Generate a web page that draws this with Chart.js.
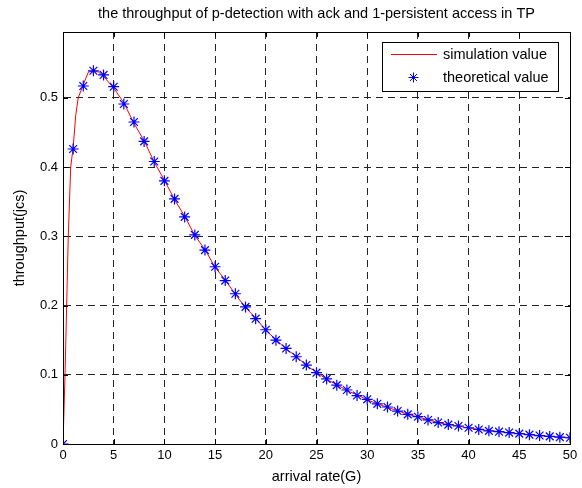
<!DOCTYPE html>
<html>
<head>
<meta charset="utf-8">
<script src="https://cdn.jsdelivr.net/npm/chart.js@4/dist/chart.umd.min.js"></script>
<style>
  html, body { margin: 0; padding: 0; background: #fff; }
  #wrap { width: 582px; height: 488px; }
</style>
</head>
<body>
<div id="wrap"><canvas id="tp"></canvas></div>
<script>
// theoretical value, one point per arrival rate G = 0..50
const theoG = [0,1,2,3,4,5,6,7,8,9,10,11,12,13,14,15,16,17,18,19,20,21,22,23,24,25,
    26,27,28,29,30,31,32,33,34,35,36,37,38,39,40,41,42,43,44,45,46,47,48,49,50];
const theoTp = [0, 0.426, 0.517, 0.539, 0.533, 0.516, 0.491, 0.465, 0.437, 0.408, 0.380,
    0.354, 0.328, 0.302, 0.280, 0.256, 0.236, 0.217, 0.198, 0.181, 0.165,
    0.150, 0.138, 0.126, 0.114, 0.103, 0.094, 0.085, 0.078, 0.070, 0.0645,
    0.058, 0.0534, 0.0476, 0.0428, 0.0394, 0.0347, 0.031, 0.028, 0.026, 0.0235,
    0.021, 0.019, 0.0178, 0.0165, 0.015, 0.0135, 0.0122, 0.011, 0.0099, 0.009];

// simulation value (red curve)
const simG = [0, 0.2, 0.36, 0.52, 0.76, 1, 1.25, 1.5, 2, 2.5, 3, 3.5, 4, 5, 6, 7, 8, 9, 10,
    11, 12, 13, 14, 15, 16, 17, 18, 19, 20, 21, 22, 23, 24, 25, 26, 27, 28, 29, 30,
    31, 32, 33, 34, 35, 36, 37, 38, 39, 40, 41, 42, 43, 44, 45, 46, 47, 48, 49, 50];
const simTp = [0, 0.1, 0.2, 0.3, 0.4, 0.428, 0.474, 0.500, 0.519, 0.537, 0.539, 0.537, 0.531,
    0.514, 0.493, 0.463, 0.438, 0.407, 0.381, 0.353, 0.329, 0.301, 0.281, 0.255, 0.237,
    0.216, 0.197, 0.182, 0.164, 0.151, 0.137, 0.127, 0.113, 0.104, 0.093, 0.086, 0.077,
    0.071, 0.064, 0.058, 0.053, 0.048, 0.043, 0.039, 0.035, 0.031, 0.028, 0.026, 0.023,
    0.021, 0.019, 0.018, 0.016, 0.015, 0.0135, 0.012, 0.011, 0.0098, 0.0088];

const xTicks = [0, 5, 10, 15, 20, 25, 30, 35, 40, 45, 50];
const yTicks = [0, 0.1, 0.2, 0.3, 0.4, 0.5];

const FONT = '"Liberation Sans", Arial, sans-serif';

const simPts = simG.map((g, i) => ({x: g, y: simTp[i]}));
const theoPts = theoG.map((g, i) => ({x: g, y: theoTp[i]}));

// frame, inward ticks, title and boxed legend like the matlab figure
const matlabBits = {
    id: 'matlabBits',
    afterDatasetsDraw(chart) {
        const ctx = chart.ctx;
        const a = chart.chartArea;
        const xs = chart.scales.x, ys = chart.scales.y;
        ctx.save();
        ctx.strokeStyle = '#000';
        ctx.lineWidth = 1;
        ctx.setLineDash([]);
        ctx.beginPath();
        xTicks.forEach(v => {
            const px = Math.round(xs.getPixelForValue(v)) + 0.5;
            ctx.moveTo(px, a.bottom); ctx.lineTo(px, a.bottom - 5);
            ctx.moveTo(px, a.top); ctx.lineTo(px, a.top + 5);
        });
        yTicks.forEach(v => {
            const py = Math.round(ys.getPixelForValue(v)) + 0.5;
            ctx.moveTo(a.left, py); ctx.lineTo(a.left + 5, py);
            ctx.moveTo(a.right, py); ctx.lineTo(a.right - 5, py);
        });
        ctx.stroke();
        ctx.strokeRect(Math.round(a.left) + 0.5, Math.round(a.top) + 0.5,
            Math.round(a.right - a.left), Math.round(a.bottom - a.top));

        // title
        ctx.fillStyle = '#000';
        ctx.font = '14.5px ' + FONT;
        ctx.textAlign = 'center';
        ctx.textBaseline = 'middle';
        ctx.fillText('the throughput of p-detection with ack and 1-persistent access in TP', (a.left + a.right) / 2, 14);

        // legend
        const lx = 382, ly = 42, lw = 176, lh = 49;
        ctx.fillStyle = '#fff';
        ctx.fillRect(lx, ly, lw, lh);
        ctx.strokeRect(lx + 0.5, ly + 0.5, lw, lh);
        ctx.strokeStyle = '#ff0000';
        ctx.beginPath();
        ctx.moveTo(391, 54.5); ctx.lineTo(437, 54.5);
        ctx.stroke();
        ctx.strokeStyle = '#0000ff';
        const r = 5, sx = 413.5, sy = 77.5;
        ctx.beginPath();
        ctx.moveTo(sx - r, sy); ctx.lineTo(sx + r, sy);
        ctx.moveTo(sx, sy - r); ctx.lineTo(sx, sy + r);
        const d = r * 0.707;
        ctx.moveTo(sx - d, sy - d); ctx.lineTo(sx + d, sy + d);
        ctx.moveTo(sx - d, sy + d); ctx.lineTo(sx + d, sy - d);
        ctx.stroke();
        ctx.fillStyle = '#000';
        ctx.font = '14.5px ' + FONT;
        ctx.textAlign = 'left';
        ctx.fillText('simulation value', 443, 55);
        ctx.fillText('theoretical value', 443, 78);
        ctx.restore();
    }
};

new Chart(document.getElementById('tp'), {
    type: 'scatter',
    data: {
        datasets: [{
            label: 'simulation value',
            data: simPts,
            showLine: true,
            borderColor: '#ff0000',
            borderWidth: 1,
            pointRadius: 0,
            tension: 0,
            order: 2
        }, {
            label: 'theoretical value',
            data: theoPts,
            showLine: false,
            pointStyle: 'star',
            pointRadius: 5.5,
            borderColor: '#0000ff',
            backgroundColor: '#0000ff',
            borderWidth: 1.2,
            order: 1
        }]
    },
    options: {
        responsive: true,
        maintainAspectRatio: false,
        animation: false,
        layout: { padding: { top: 32, right: 12, left: 0, bottom: 0 } },
        plugins: {
            legend: { display: false },
            tooltip: { enabled: false }
        },
        scales: {
            x: {
                type: 'linear',
                min: 0,
                max: 50,
                afterFit(s) { s.height = 44; },
                afterBuildTicks(s) { s.ticks = xTicks.map(v => ({value: v})); },
                ticks: { padding: 4, color: '#000', font: { family: FONT, size: 13 } },
                grid: { color: '#222', drawTicks: false, lineWidth: 1 },
                border: { display: true, color: '#000', dash: [7, 5] },
                title: { display: true, text: 'arrival rate(G)', color: '#000',
                    font: { family: FONT, size: 14.5 }, padding: { top: 0, bottom: 2 } }
            },
            y: {
                type: 'linear',
                min: 0,
                max: 0.595,
                afterFit(s) { s.width = 63; },
                afterBuildTicks(s) { s.ticks = yTicks.map(v => ({value: v})); },
                ticks: { padding: 5, color: '#000', font: { family: FONT, size: 13 },
                    callback: v => String(Math.round(v * 10) / 10) },
                grid: { color: '#222', drawTicks: false, lineWidth: 1 },
                border: { display: true, color: '#000', dash: [7, 5] },
                title: { display: true, text: 'throughput(jcs)', color: '#000',
                    font: { family: FONT, size: 14.5 }, padding: { top: 11, bottom: 0 } }
            }
        }
    },
    plugins: [matlabBits]
});
</script>
</body>
</html>
